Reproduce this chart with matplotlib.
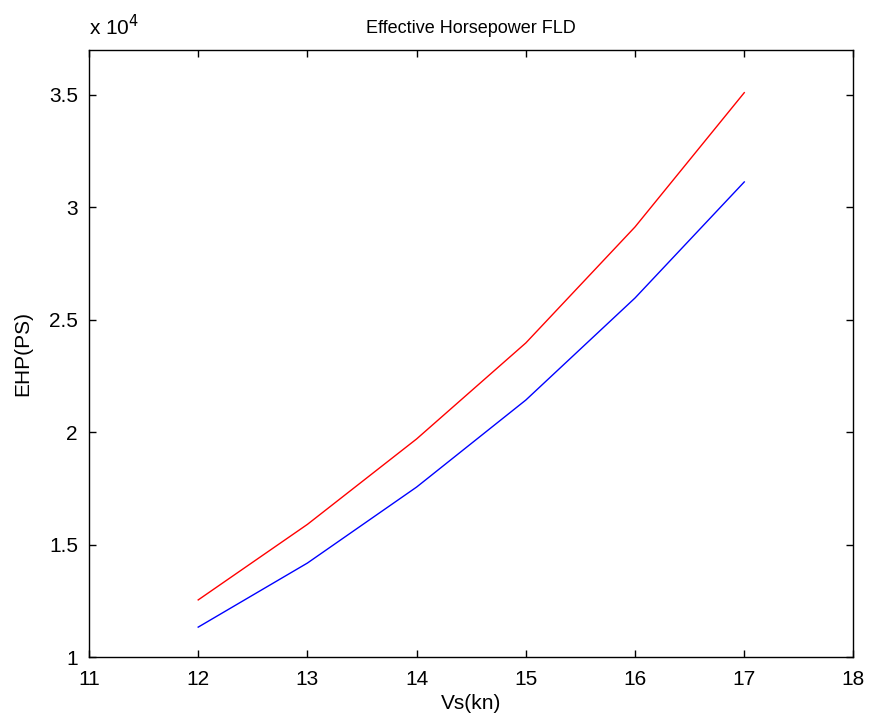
import matplotlib.pyplot as plt
from matplotlib.ticker import FuncFormatter

plt.rcParams['font.family'] = ['Liberation Sans', 'DejaVu Sans']

vs = [12, 13, 14, 15, 16, 17]
ehp_red = [12540, 15900, 19700, 23970, 29130, 35100]
ehp_blue = [11330, 14180, 17560, 21430, 25970, 31130]

fig = plt.figure(figsize=(8.75, 7.24), dpi=100)
ax = fig.add_axes([0.1017, 0.0925, 0.8737, 0.8385])
ax.plot(vs, ehp_red, color='red', lw=1)
ax.plot(vs, ehp_blue, color='blue', lw=1)

ax.set_xlim(11, 18)
ax.set_ylim(10000, 37000)
ax.set_xticks(range(11, 19))
ax.set_yticks([10000, 15000, 20000, 25000, 30000, 35000])
ax.yaxis.set_major_formatter(FuncFormatter(lambda v, p: '%g' % (v / 1e4)))
ax.tick_params(direction='in', top=True, right=True, labelsize=15, length=5, width=1)
ax.tick_params(axis='x', pad=9)
ax.tick_params(axis='y', pad=8)
for s in ax.spines.values():
    s.set_linewidth(1)

ax.text(0, 1.018, 'x 10$^4$', transform=ax.transAxes, fontsize=15, ha='left', va='bottom')
ax.set_title('Effective Horsepower FLD', fontsize=13, pad=12)
ax.set_xlabel('Vs(kn)', fontsize=15, labelpad=4)
ax.set_ylabel('EHP(PS)', fontsize=15, labelpad=12)

plt.savefig('out.png', dpi=100)
